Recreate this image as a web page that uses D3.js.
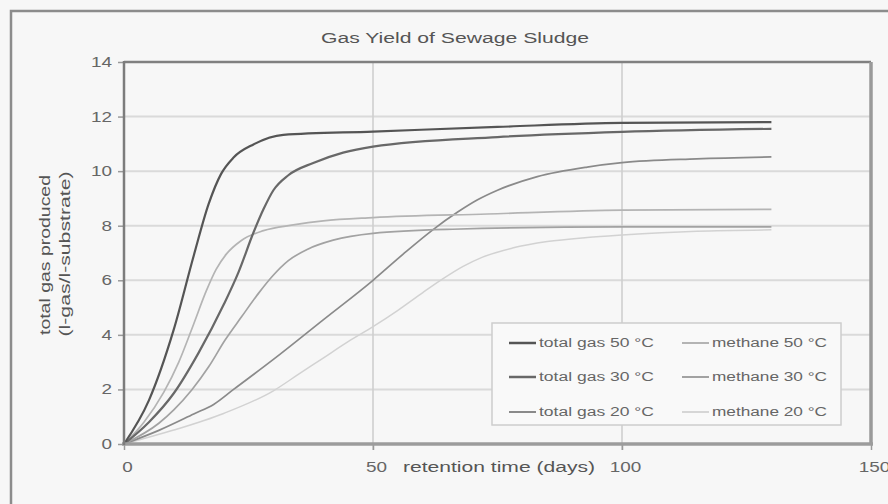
<!DOCTYPE html>
<html>
<head>
<meta charset="utf-8">
<title>Gas Yield of Sewage Sludge</title>
<script src="https://d3js.org/d3.v7.min.js"></script>
<style>
body { margin: 0; background: #f7f7f7; }
svg { display: block; font-family: "Liberation Sans", Arial, sans-serif; }
</style>
</head>
<body>
<script>
// values: [retention time (days), gas (l-gas/l-substrate)]
var totalGas50 = [[0,0],[5,1.6],[10,4.2],[14,6.9],[17,8.8],[19.5,9.9],[22,10.5],[26,10.98],[32,11.33],[50,11.45],[75,11.62],[100,11.77],[130,11.8]];
var totalGas30 = [[0,0],[5,0.8],[10,1.86],[15,3.35],[20,5.1],[23,6.3],[26,7.75],[28,8.6],[30,9.3],[33,9.85],[38,10.3],[44,10.68],[50,10.9],[75,11.25],[100,11.44],[130,11.55]];
var totalGas20 = [[0,0],[7,0.5],[14,1.1],[18,1.45],[22,2.0],[30,3.1],[40,4.55],[50,6.0],[56,6.95],[62,7.85],[67,8.5],[71,8.95],[75,9.3],[83,9.8],[93,10.15],[100,10.31],[115,10.45],[130,10.52]];
var methane50  = [[0,0],[4,0.8],[8,1.9],[11,3.0],[14,4.4],[16.5,5.6],[18.5,6.4],[20.5,6.95],[23.5,7.45],[28,7.82],[34,8.03],[40,8.18],[50,8.3],[73,8.43],[100,8.57],[130,8.6]];
var methane30  = [[0,0],[7,0.76],[10,1.25],[13.6,1.98],[17,2.83],[20.3,3.81],[23.6,4.66],[27,5.52],[29.7,6.13],[33,6.72],[37,7.15],[42,7.47],[50,7.72],[66,7.87],[100,7.96],[130,7.96]];
var methane20  = [[0,0],[10,0.51],[20,1.12],[30,1.95],[35,2.55],[40,3.15],[45,3.75],[50,4.3],[55,4.9],[60,5.55],[64,6.05],[68,6.5],[72,6.85],[78,7.18],[85,7.42],[93,7.57],[100,7.66],[115,7.8],[130,7.85]];

var seriesLabels = ["total gas 50 °C", "total gas 30 °C", "total gas 20 °C",
                    "methane 50 °C", "methane 30 °C", "methane 20 °C"];
var yTicks = [0, 2, 4, 6, 8, 10, 12, 14];
var xTicks = [0, 50, 100, 150];
var xGrid = [50, 100];

var allSeries = [totalGas50, totalGas30, totalGas20, methane50, methane30, methane20];
var colors = ["#555", "#686868", "#8a8a8a", "#b4b4b4", "#a2a2a2", "#d2d2d2"];
var widths = [2.2, 2.2, 1.7, 1.7, 1.7, 1.5];

var w = 888, h = 504;
var svg = d3.select("body").append("svg").attr("width", w).attr("height", h);

svg.append("rect").attr("width", w).attr("height", h).attr("fill", "#f7f7f7");

// scanned outer frame
svg.append("path").attr("d", "M11,504V11H888").attr("fill", "none")
   .attr("stroke", "#8c8c8c").attr("stroke-width", 2.5);

var x = d3.scaleLinear().domain([0, 150]).range([124, 871]);
var y = d3.scaleLinear().domain([0, 14]).range([444, 62]);

// stretch text to the width seen in the scan
function stretch(sel, f) {
    sel.each(function() {
        var len = this.getComputedTextLength();
        d3.select(this).attr("textLength", len * f).attr("lengthAdjust", "spacingAndGlyphs");
    });
}

// grid
svg.append("g").selectAll("line").data(yTicks.filter(function(d){ return d > 0 && d < 14; }))
   .enter().append("line")
   .attr("x1", x(0)).attr("x2", x(150))
   .attr("y1", function(d){ return y(d); }).attr("y2", function(d){ return y(d); })
   .attr("stroke", "#dadada").attr("stroke-width", 2);
svg.append("g").selectAll("line").data(xGrid)
   .enter().append("line")
   .attr("x1", function(d){ return x(d); }).attr("x2", function(d){ return x(d); })
   .attr("y1", y(14)).attr("y2", y(0) + 6)
   .attr("stroke", "#cfcfcf").attr("stroke-width", 1.6);

// axes
var yAxis = svg.append("g").attr("transform", "translate(" + x(0) + ",0)")
   .call(d3.axisLeft(y).tickValues(yTicks).tickSize(6).tickPadding(6));
var xAxis = svg.append("g").attr("transform", "translate(0," + y(0) + ")")
   .call(d3.axisBottom(x).tickValues(xTicks).tickSize(6).tickPadding(12));
[yAxis, xAxis].forEach(function(a) {
    a.select(".domain").remove();
    a.selectAll(".tick line").attr("stroke", "#9a9a9a").attr("stroke-width", 1.5);
    a.selectAll(".tick text").attr("fill", "#666").style("font-size", "14px");
    stretch(a.selectAll(".tick text"), 1.35);
});
xAxis.selectAll(".tick text").attr("dx", 3);

// plot frame
svg.append("line").attr("x1", x(0)).attr("x2", x(150)).attr("y1", y(14)).attr("y2", y(14))
   .attr("stroke", "#808080").attr("stroke-width", 2.5);
svg.append("line").attr("x1", x(150)).attr("x2", x(150)).attr("y1", y(14)).attr("y2", y(0))
   .attr("stroke", "#9a9a9a").attr("stroke-width", 3.5);

// series
var line = d3.line().x(function(d){ return x(d[0]); }).y(function(d){ return y(d[1]); })
   .curve(d3.curveMonotoneX);
var order = [5, 2, 4, 3, 1, 0];
svg.append("g").selectAll("path").data(order).enter().append("path")
   .attr("d", function(i){ return line(allSeries[i]); })
   .attr("fill", "none")
   .attr("stroke", function(i){ return colors[i]; })
   .attr("stroke-width", function(i){ return widths[i]; });

svg.append("line").attr("x1", x(0) - 2).attr("x2", x(150) + 2).attr("y1", y(0)).attr("y2", y(0))
   .attr("stroke", "#9c9c9c").attr("stroke-width", 3.5);
svg.append("line").attr("x1", x(0)).attr("x2", x(0)).attr("y1", y(14) - 1).attr("y2", y(0) + 1)
   .attr("stroke", "#7c7c7c").attr("stroke-width", 2.5);

// title and axis titles
svg.append("text").attr("x", 455).attr("y", 43).attr("text-anchor", "middle")
   .attr("fill", "#555").style("font-size", "14px")
   .attr("textLength", 268).attr("lengthAdjust", "spacingAndGlyphs")
   .text("Gas Yield of Sewage Sludge");
svg.append("text").attr("x", 499).attr("y", 472).attr("text-anchor", "middle")
   .attr("fill", "#555").style("font-size", "14px")
   .attr("textLength", 192).attr("lengthAdjust", "spacingAndGlyphs")
   .text("retention time (days)");
svg.append("text").attr("transform", "translate(50,255) rotate(-90)").attr("text-anchor", "middle")
   .attr("fill", "#555").style("font-size", "14px")
   .attr("textLength", 160).attr("lengthAdjust", "spacingAndGlyphs")
   .text("total gas produced");
svg.append("text").attr("transform", "translate(70,254) rotate(-90)").attr("text-anchor", "middle")
   .attr("fill", "#555").style("font-size", "14px")
   .attr("textLength", 165).attr("lengthAdjust", "spacingAndGlyphs")
   .text("(l-gas/l-substrate)");

// legend
var legend = svg.append("g");
legend.append("rect").attr("x", 492).attr("y", 323).attr("width", 349).attr("height", 102)
   .attr("fill", "#f9f9f9").attr("stroke", "#cdcdcd").attr("stroke-width", 1.5);
var rowsY = [343, 377, 412];
var colX = [509, 682];
var item = legend.selectAll("g.item").data(seriesLabels).enter().append("g")
   .attr("transform", function(d, i){
       return "translate(" + colX[Math.floor(i / 3)] + "," + rowsY[i % 3] + ")";
   });
item.append("line").attr("x1", 0).attr("x2", 27).attr("y1", 0).attr("y2", 0)
   .attr("stroke", function(d, i){ return colors[i]; })
   .attr("stroke-width", function(d, i){ return widths[i] + 0.3; });
item.append("text").attr("x", 30).attr("dy", "0.35em")
   .attr("fill", "#666").style("font-size", "12px")
   .attr("textLength", 115).attr("lengthAdjust", "spacingAndGlyphs")
   .text(function(d){ return d; });
</script>
</body>
</html>
